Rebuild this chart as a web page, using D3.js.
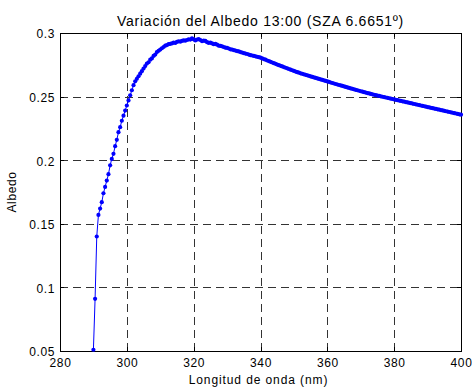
<!DOCTYPE html>
<html>
<head>
<meta charset="utf-8">
<script src="https://cdn.jsdelivr.net/npm/d3@7"></script>
<style>
  html, body { margin: 0; padding: 0; background: #fff; }
  svg { display: block; font-family: "Liberation Sans", Arial, sans-serif; }
</style>
</head>
<body>
<svg id="chart" width="472" height="387"></svg>
<script>
// ---- data ----
const title = "Variación del Albedo 13:00 (SZA 6.6651º)";
const xLabel = "Longitud de onda (nm)";
const yLabel = "Albedo";
const xTicks = [280, 300, 320, 340, 360, 380, 400];
const yTicks = [0.05, 0.1, 0.15, 0.2, 0.25, 0.3];
const xTickLabels = ["280", "300", "320", "340", "360", "380", "400"];
const yTickLabels = ["0.05", "0.1", "0.15", "0.2", "0.25", "0.3"];
const wlStart = 290, wlStep = 0.5;
const albedo = [
  0.051,0.091,0.140,0.157,0.162,0.167,0.174,0.179,0.184,0.189,
  0.196,0.201,0.205,0.211,0.216,0.222,0.226,0.231,0.235,0.239,
  0.243,0.247,0.251,0.255,0.259,0.262,0.264,0.266,0.268,0.270,
  0.272,0.274,0.276,0.277,0.279,0.280,0.282,0.283,0.285,0.286,
  0.287,0.288,0.289,0.290,0.2905,0.2912,0.2915,0.2918,0.2925,0.2922,
  0.2930,0.2935,0.2932,0.2938,0.2942,0.2940,0.2945,0.2950,0.2948,0.2958,
  0.2950,0.2942,0.2948,0.2952,0.2945,0.2935,0.2940,0.2938,0.2928,0.2922,
  0.2925,0.2918,0.2912,0.2914,0.2908,0.2900,0.2898,0.2895,0.2890,0.2885,
  0.2883,0.2878,0.2872,0.2870,0.2866,0.2862,0.2858,0.2855,0.2850,0.2846,
  0.2842,0.2838,0.2835,0.2830,0.2826,0.2823,0.2820,0.2817,0.2813,0.2810,
  0.2806,0.2800,0.2795,0.2790,0.2784,0.2779,0.2773,0.2768,0.2763,0.2758,
  0.2752,0.2747,0.2742,0.2737,0.2732,0.2727,0.2722,0.2717,0.2712,0.2707,
  0.2702,0.2697,0.2692,0.2688,0.2683,0.2679,0.2675,0.2671,0.2667,0.2663,
  0.2659,0.2655,0.2651,0.2647,0.2643,0.2639,0.2635,0.2631,0.2627,0.2623,
  0.2619,0.2615,0.2611,0.2607,0.2603,0.2599,0.2595,0.2591,0.2588,0.2584,
  0.2580,0.2576,0.2572,0.2568,0.2564,0.2561,0.2557,0.2553,0.2550,0.2546,
  0.2542,0.2539,0.2535,0.2532,0.2528,0.2525,0.2521,0.2518,0.2514,0.2511,
  0.2508,0.2505,0.2502,0.2499,0.2496,0.2493,0.2490,0.2487,0.2484,0.2481,
  0.2478,0.2475,0.2472,0.2469,0.2466,0.2463,0.2460,0.2457,0.2454,0.2451,
  0.2448,0.2445,0.2442,0.2439,0.2436,0.2433,0.2430,0.2427,0.2424,0.2421,
  0.2418,0.2415,0.2412,0.2409,0.2406,0.2403,0.2400,0.2397,0.2394,0.2391,
  0.2388,0.2385,0.2382,0.2379,0.2376,0.2373,0.2370,0.2367,0.2364,0.2361,
  0.2358
];
const data = albedo.map((v, i) => ({ x: wlStart + i * wlStep, y: v }));

// ---- layout ----
const svg = d3.select("#chart");
const L = 60, R = 461, T = 33, B = 351;
const x = d3.scaleLinear().domain([280, 400]).range([L, R]);
const y = d3.scaleLinear().domain([0.05, 0.3]).range([B, T]);

// grid
const grid = svg.append("g").attr("stroke", "#333").attr("stroke-width", 1)
  .attr("stroke-dasharray", "8,5").attr("shape-rendering", "crispEdges");
xTicks.slice(1, -1).forEach(t => {
  grid.append("line").attr("x1", Math.round(x(t)) + 0.5).attr("x2", Math.round(x(t)) + 0.5)
    .attr("y1", B).attr("y2", T);
});
yTicks.slice(1, -1).forEach(t => {
  grid.append("line").attr("y1", Math.round(y(t)) + 0.5).attr("y2", Math.round(y(t)) + 0.5)
    .attr("x1", L).attr("x2", R);
});

// axes
const xAxis = d3.axisBottom(x).tickValues(xTicks).tickSize(-4).tickPadding(7)
  .tickFormat((d, i) => xTickLabels[i]);
const yAxis = d3.axisLeft(y).tickValues(yTicks).tickSize(-4).tickPadding(5)
  .tickFormat((d, i) => yTickLabels[i]);
const xTop = d3.axisTop(x).tickValues(xTicks).tickSize(-4).tickFormat("");
const yRight = d3.axisRight(y).tickValues(yTicks).tickSize(-4).tickFormat("");

function styleAxis(g) {
  g.select(".domain").attr("stroke", "#000").attr("stroke-width", 1);
  g.selectAll(".tick line").attr("stroke", "#000");
  g.selectAll("text").attr("fill", "#000").style("font-size", "12px")
    .style("letter-spacing", "0.6px")
    .style("font-family", "'Liberation Sans', Arial, sans-serif");
  g.attr("shape-rendering", "crispEdges");
}
svg.append("g").attr("transform", `translate(0,${B})`).call(xAxis).call(styleAxis);
const gy = svg.append("g").attr("transform", `translate(${L},0)`).call(yAxis).call(styleAxis);
gy.selectAll("text").attr("dy", "0.4em");
svg.append("g").attr("transform", `translate(0,${T})`).call(xTop).call(styleAxis);
svg.append("g").attr("transform", `translate(${R},0)`).call(yRight).call(styleAxis);

// line + markers
const line = d3.line().x(d => x(d.x)).y(d => y(d.y));
svg.append("path").datum(data).attr("d", line)
  .attr("fill", "none").attr("stroke", "#0000ff").attr("stroke-width", 1);
svg.append("g").selectAll("circle").data(data).join("circle")
  .attr("cx", d => x(d.x)).attr("cy", d => y(d.y)).attr("r", 2.1)
  .attr("fill", "#0000ff");

// texts
svg.append("text").attr("x", (L + R) / 2).attr("y", 26).attr("text-anchor", "middle")
  .style("font-size", "14px").style("letter-spacing", "0.75px").attr("fill", "#000").text(title);
svg.append("text").attr("x", (L + R) / 2 - 2).attr("y", 384).attr("text-anchor", "middle")
  .style("font-size", "12px").style("letter-spacing", "0.9px").attr("fill", "#000").text(xLabel);
svg.append("text").attr("transform", `translate(16,${(T + B) / 2}) rotate(-90)`)
  .attr("text-anchor", "middle").style("font-size", "12px").style("letter-spacing", "0.6px")
  .attr("fill", "#000").text(yLabel);
</script>
</body>
</html>
